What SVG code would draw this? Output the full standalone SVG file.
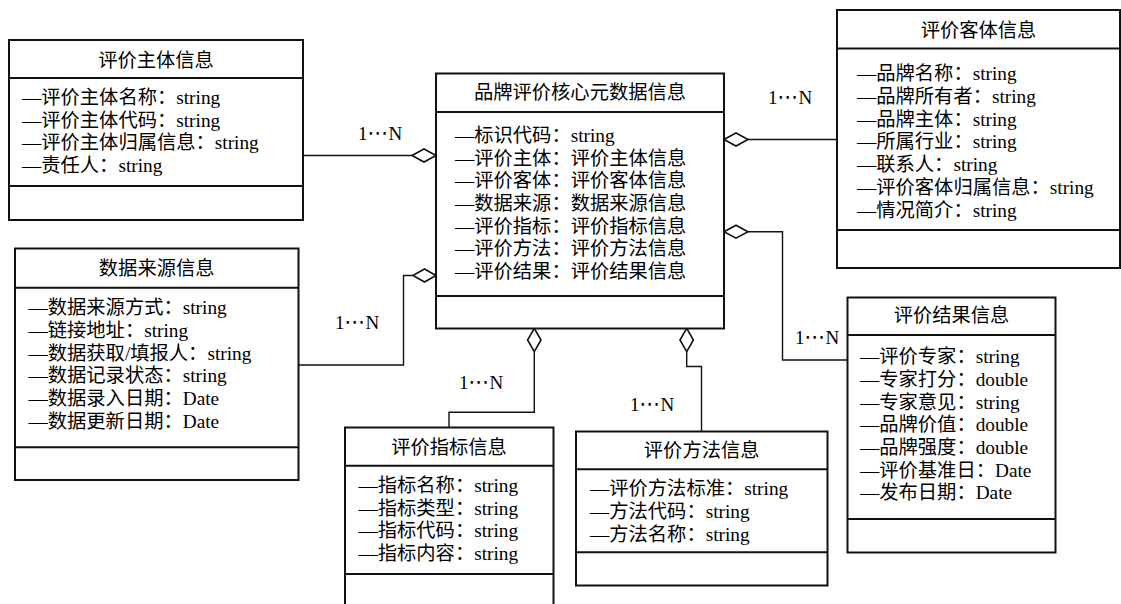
<svg xmlns="http://www.w3.org/2000/svg" width="1121" height="604" viewBox="0 0 1121 604">
<defs>
<style>
.box{fill:#fff;stroke:#111;stroke-width:2}
.div{stroke:#111;stroke-width:2}
.con{fill:none;stroke:#111;stroke-width:1.4}
.dia{fill:#fff;stroke:#111;stroke-width:1.6}
text{font-family:"Liberation Serif","Noto Sans CJK SC",serif;font-size:19.3px;fill:#000}
.t{text-anchor:middle}
.lab{font-size:19px}
.el{font-family:"DejaVu Sans",sans-serif;font-size:21px}
</style>
</defs>
<rect x="0" y="0" width="1121" height="604" fill="#fff"/>
<g id="connectors">
<line class="con" x1="303" y1="155.5" x2="412" y2="155.5"/>
<polygon class="dia" points="412,155.5 424,149 436,155.5 424,162"/>
<text class="lab" x="358" y="139.5">1<tspan class="el">⋯</tspan>N</text>
<polyline class="con" points="298.5,365 403.5,365 403.5,275.5 413,275.5"/>
<polygon class="dia" points="413,275.5 424.5,269 436,275.5 424.5,282"/>
<text class="lab" x="335" y="328.5">1<tspan class="el">⋯</tspan>N</text>
<line class="con" x1="748" y1="139.5" x2="837" y2="139.5"/>
<polygon class="dia" points="724,139.5 736,133 748,139.5 736,146"/>
<text class="lab" x="768" y="103.5">1<tspan class="el">⋯</tspan>N</text>
<polyline class="con" points="748,231.7 782.5,231.7 782.5,360 847.5,360"/>
<polygon class="dia" points="724,231.7 736,225.2 748,231.7 736,238.2"/>
<text class="lab" x="795" y="343.5">1<tspan class="el">⋯</tspan>N</text>
<polyline class="con" points="534.3,351.7 534.3,412.3 449,412.3 449,427.5"/>
<polygon class="dia" points="534.3,328.3 541,340 534.3,351.7 527.6,340"/>
<text class="lab" x="459" y="388.5">1<tspan class="el">⋯</tspan>N</text>
<polyline class="con" points="686.7,351.7 686.7,366.5 701.5,366.5 701.5,431.5"/>
<polygon class="dia" points="686.7,328.3 693.4,340 686.7,351.7 680,340"/>
<text class="lab" x="630" y="411">1<tspan class="el">⋯</tspan>N</text>
</g>
<g id="subject">
<rect class="box" x="9" y="40" width="294" height="180"/>
<line class="div" x1="9" y1="78" x2="303" y2="78"/>
<line class="div" x1="9" y1="186" x2="303" y2="186"/>
<text class="t" x="156" y="67">评价主体信息</text>
<text x="22" y="104">—评价主体名称：string</text>
<text x="22" y="126.7">—评价主体代码：string</text>
<text x="22" y="149.4">—评价主体归属信息：string</text>
<text x="22" y="172">—责任人：string</text>
</g>
<g id="core">
<rect class="box" x="436" y="73.5" width="288" height="255"/>
<line class="div" x1="436" y1="112" x2="724" y2="112"/>
<line class="div" x1="436" y1="296" x2="724" y2="296"/>
<text class="t" x="580" y="99">品牌评价核心元数据信息</text>
<text x="455" y="142">—标识代码：string</text>
<text x="455" y="164.7">—评价主体：评价主体信息</text>
<text x="455" y="187.4">—评价客体：评价客体信息</text>
<text x="455" y="210">—数据来源：数据来源信息</text>
<text x="455" y="232.7">—评价指标：评价指标信息</text>
<text x="455" y="255.4">—评价方法：评价方法信息</text>
<text x="455" y="278">—评价结果：评价结果信息</text>
</g>
<g id="object">
<rect class="box" x="837" y="10" width="283" height="258"/>
<line class="div" x1="837" y1="48.5" x2="1120" y2="48.5"/>
<line class="div" x1="837" y1="230" x2="1120" y2="230"/>
<text class="t" x="978.5" y="37">评价客体信息</text>
<text x="857" y="80">—品牌名称：string</text>
<text x="857" y="102.8">—品牌所有者：string</text>
<text x="857" y="125.6">—品牌主体：string</text>
<text x="857" y="148.4">—所属行业：string</text>
<text x="857" y="171.2">—联系人：string</text>
<text x="857" y="194">—评价客体归属信息：string</text>
<text x="857" y="216.8">—情况简介：string</text>
</g>
<g id="datasource">
<rect class="box" x="15" y="248.5" width="283.5" height="231.5"/>
<line class="div" x1="15" y1="287.7" x2="298.5" y2="287.7"/>
<line class="div" x1="15" y1="447.3" x2="298.5" y2="447.3"/>
<text class="t" x="156.7" y="275">数据来源信息</text>
<text x="28.5" y="314">—数据来源方式：string</text>
<text x="28.5" y="336.8">—链接地址：string</text>
<text x="28.5" y="359.6">—数据获取/填报人：string</text>
<text x="28.5" y="382.4">—数据记录状态：string</text>
<text x="28.5" y="405.2">—数据录入日期：Date</text>
<text x="28.5" y="428">—数据更新日期：Date</text>
</g>
<g id="result">
<rect class="box" x="847.5" y="297.5" width="208" height="255"/>
<line class="div" x1="847.5" y1="335" x2="1055.5" y2="335"/>
<line class="div" x1="847.5" y1="519" x2="1055.5" y2="519"/>
<text class="t" x="951.5" y="322">评价结果信息</text>
<text x="860" y="363.3">—评价专家：string</text>
<text x="860" y="386">—专家打分：double</text>
<text x="860" y="408.7">—专家意见：string</text>
<text x="860" y="431.3">—品牌价值：double</text>
<text x="860" y="454">—品牌强度：double</text>
<text x="860" y="476.7">—评价基准日：Date</text>
<text x="860" y="499.3">—发布日期：Date</text>
</g>
<g id="indicator">
<rect class="box" x="345" y="427.5" width="208.5" height="200"/>
<line class="div" x1="345" y1="465.7" x2="553.5" y2="465.7"/>
<line class="div" x1="345" y1="574" x2="553.5" y2="574"/>
<text class="t" x="449" y="453.5">评价指标信息</text>
<text x="358.5" y="491.7">—指标名称：string</text>
<text x="358.5" y="514.5">—指标类型：string</text>
<text x="358.5" y="537.3">—指标代码：string</text>
<text x="358.5" y="560">—指标内容：string</text>
</g>
<g id="method">
<rect class="box" x="576" y="431.5" width="251.5" height="154"/>
<line class="div" x1="576" y1="469.3" x2="827.5" y2="469.3"/>
<line class="div" x1="576" y1="552.3" x2="827.5" y2="552.3"/>
<text class="t" x="701.7" y="457">评价方法信息</text>
<text x="590" y="495">—评价方法标准：string</text>
<text x="590" y="518">—方法代码：string</text>
<text x="590" y="541">—方法名称：string</text>
</g>
</svg>
